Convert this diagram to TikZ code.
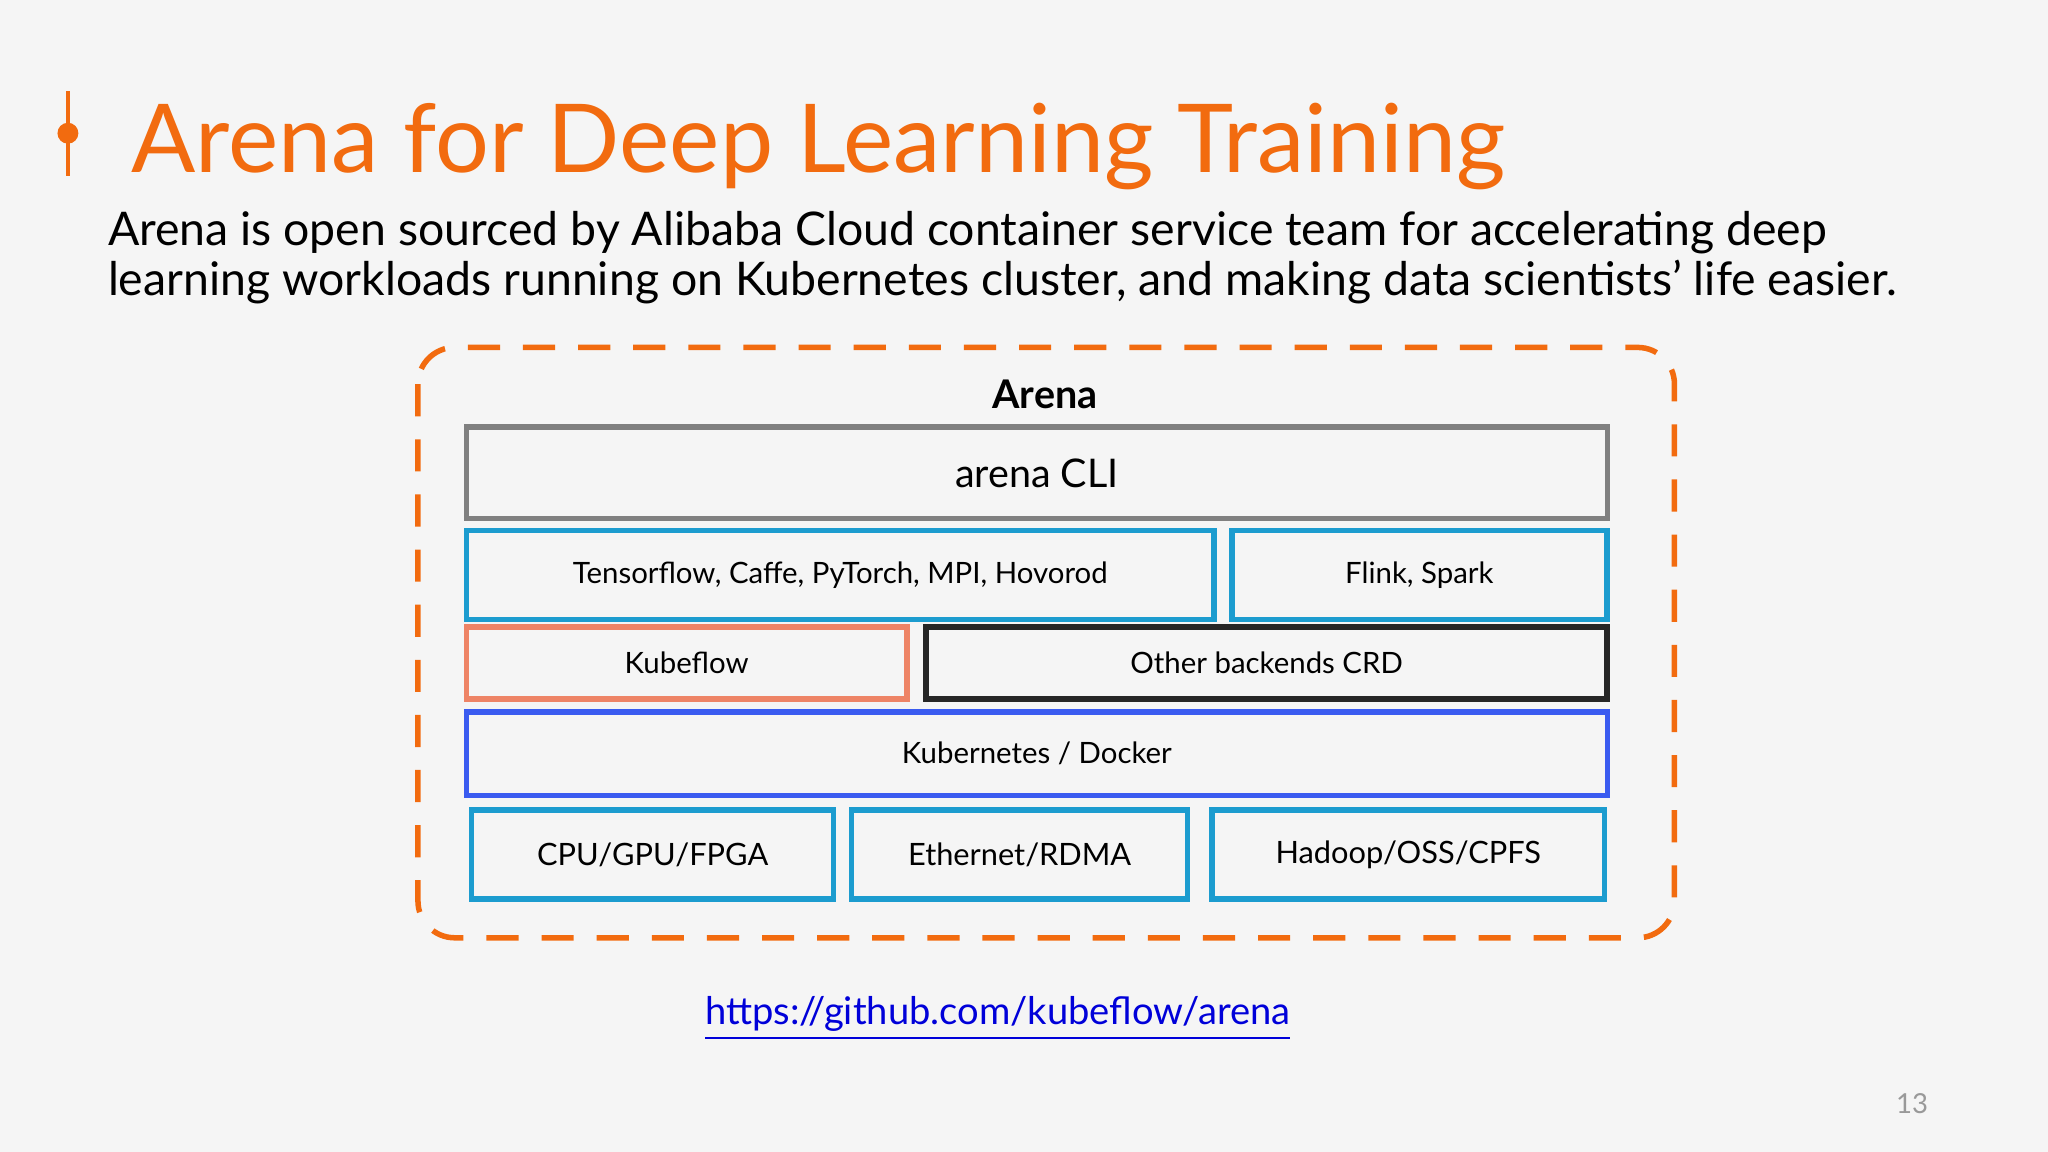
\documentclass[tikz,border=0pt]{standalone}
\usepackage{fontspec}
\setmainfont{Lato}
\usetikzlibrary{positioning}
\definecolor{arenaorange}{HTML}{F26B0F}
\definecolor{layerblue}{HTML}{1C9CCF}
\definecolor{kubeblue}{HTML}{3A5BF0}
\definecolor{kubeflowred}{HTML}{EE8466}
\definecolor{cligray}{HTML}{808080}
\newcommand{\pxfont}[1]{\fontsize{#1}{#1}\selectfont}
\begin{document}
\begin{tikzpicture}
	[
	x=0.01cm, y=-0.01cm,
	layer/.style = {draw, line width=1.2pt, inner sep=0pt, anchor=north west, font=\pxfont{6.4pt}},
	sky/.style = {layer, draw=layerblue},
	]

	\fill[black!4] (0,0) rectangle (1568,882);

	% title bar
	\draw[arenaorange, line width=0.8pt] (52,70) -- (52,135);
	\fill[arenaorange] (52,102) circle (8);
	\node[anchor=base west, text=arenaorange, font=\pxfont{20.7pt}, inner sep=0pt] (title) at (100,132) {Arena for Deep Learning Training};
	\node[anchor=base west, inner sep=0pt, align=left, font=\pxfont{10.1pt}] (intro) at (82,226)
		{Arena is open sourced by Alibaba Cloud container service team for accelerating deep\\[0.7pt]
		learning workloads running on Kubernetes cluster, and making data scientists' life easier.};

	% frame
	\draw[arenaorange, line width=1.2pt, dash pattern=on 7pt off 5pt, rounded corners=8pt] (320,266) rectangle (1282,718);
	\node[font=\pxfont{8.6pt}\bfseries] (arena) at (800,302) {Arena};

	% layers
	\node[layer, draw=cligray, minimum width=8.73cm, minimum height=0.70cm, font=\pxfont{8.6pt}] (cli) at (355,325) {arena CLI};
	\node[sky, minimum width=5.72cm, minimum height=0.68cm] (frameworks) at (355,404) {Tensorflow, Caffe, PyTorch, MPI, Hovorod};
	\node[sky, minimum width=2.87cm, minimum height=0.68cm] (flink) at (941,404) {Flink, Spark};
	\node[layer, draw=kubeflowred, minimum width=3.37cm, minimum height=0.55cm] (kubeflow) at (355,478) {Kubeflow};
	\node[layer, draw=black!85, minimum width=5.21cm, minimum height=0.55cm] (crd) at (707,478) {Other backends CRD};
	\node[layer, draw=kubeblue, minimum width=8.73cm, minimum height=0.64cm] (k8s) at (355,543) {Kubernetes / Docker};
	\node[sky, minimum width=2.77cm, minimum height=0.68cm, font=\pxfont{6.7pt}] (cpu) at (359,618) {CPU/GPU/FPGA};
	\node[sky, minimum width=2.57cm, minimum height=0.68cm, font=\pxfont{6.7pt}] (net) at (650,618) {Ethernet/RDMA};
	\node[sky, minimum width=3.00cm, minimum height=0.68cm, font=\pxfont{6.7pt}] (storage) at (926,618) {Hadoop/OSS/CPFS};

	% footer
	\node[text=blue!85!black, font=\pxfont{8.3pt}] (link) at (764,780) {\underline{https://github.com/kubeflow/arena}};
	\node[text=black!40, font=\pxfont{6pt}] (page) at (1464,845) {13};
\end{tikzpicture}
\end{document}
